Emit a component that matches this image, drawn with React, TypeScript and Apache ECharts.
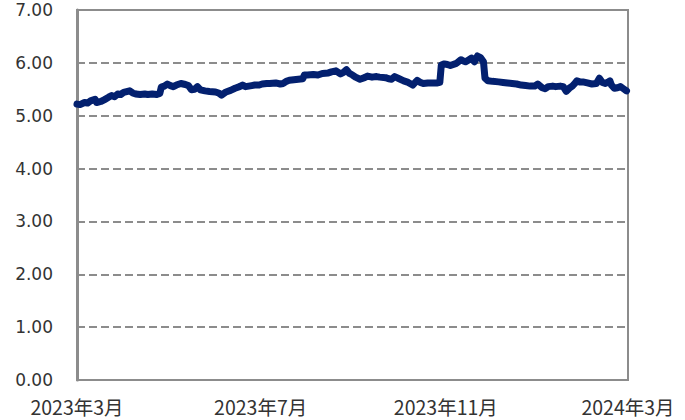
import React, { useEffect, useRef } from "react";
import * as echarts from "echarts";

const dates: string[] = [
  "2023-03-01","2023-03-03","2023-03-06","2023-03-08","2023-03-10","2023-03-13","2023-03-14","2023-03-17","2023-03-19","2023-03-22",
  "2023-03-24","2023-03-26","2023-03-28","2023-03-30","2023-04-01","2023-04-05","2023-04-07","2023-04-09","2023-04-12","2023-04-15",
  "2023-04-17","2023-04-20","2023-04-23","2023-04-25","2023-04-26","2023-04-28","2023-04-30","2023-05-02","2023-05-04","2023-05-06",
  "2023-05-09","2023-05-12","2023-05-14","2023-05-16","2023-05-18","2023-05-20","2023-05-22","2023-05-25","2023-05-28","2023-06-01",
  "2023-06-03","2023-06-05","2023-06-08","2023-06-11","2023-06-14","2023-06-17","2023-06-19","2023-06-21","2023-06-23","2023-06-25",
  "2023-06-27","2023-06-30","2023-07-02","2023-07-05","2023-07-07","2023-07-11","2023-07-14","2023-07-16","2023-07-18","2023-07-20",
  "2023-07-23","2023-07-26","2023-07-29","2023-07-30","2023-08-01","2023-08-05","2023-08-08","2023-08-11","2023-08-15","2023-08-17",
  "2023-08-20","2023-08-22","2023-08-23","2023-08-25","2023-08-27","2023-08-29","2023-08-31","2023-09-02","2023-09-05","2023-09-08",
  "2023-09-10","2023-09-13","2023-09-16","2023-09-18","2023-09-22","2023-09-24","2023-09-26","2023-09-28","2023-10-01","2023-10-04",
  "2023-10-07","2023-10-10","2023-10-12","2023-10-13","2023-10-15","2023-10-17","2023-10-20","2023-10-23","2023-10-26","2023-10-28",
  "2023-10-29","2023-10-31","2023-11-02","2023-11-04","2023-11-08","2023-11-11","2023-11-13","2023-11-14","2023-11-16","2023-11-18",
  "2023-11-20","2023-11-22","2023-11-24","2023-11-26","2023-11-27","2023-11-29","2023-12-02","2023-12-06","2023-12-09","2023-12-12",
  "2023-12-15","2023-12-18","2023-12-21","2023-12-24","2023-12-27","2023-12-30","2024-01-01","2024-01-04","2024-01-06","2024-01-08",
  "2024-01-11","2024-01-13","2024-01-16","2024-01-18","2024-01-20","2024-01-22","2024-01-24","2024-01-26","2024-01-27","2024-01-29",
  "2024-01-31","2024-02-03","2024-02-06","2024-02-09","2024-02-11","2024-02-13","2024-02-15","2024-02-17","2024-02-18","2024-02-19",
  "2024-02-21","2024-02-23","2024-02-25","2024-02-27","2024-02-29",
];

const values: number[] = [
  5.22,5.21,5.25,5.24,5.28,5.31,5.25,5.27,5.30,5.35,
  5.38,5.36,5.41,5.40,5.44,5.47,5.43,5.41,5.40,5.41,
  5.40,5.41,5.40,5.42,5.54,5.56,5.60,5.57,5.55,5.58,
  5.61,5.59,5.57,5.49,5.50,5.55,5.49,5.47,5.46,5.45,
  5.43,5.39,5.45,5.48,5.52,5.55,5.58,5.55,5.56,5.57,
  5.58,5.58,5.60,5.61,5.61,5.62,5.60,5.61,5.65,5.67,
  5.68,5.69,5.70,5.77,5.77,5.78,5.77,5.80,5.81,5.83,
  5.85,5.81,5.79,5.82,5.87,5.80,5.77,5.73,5.69,5.72,
  5.75,5.73,5.74,5.73,5.72,5.70,5.69,5.74,5.70,5.66,
  5.63,5.58,5.64,5.67,5.63,5.61,5.62,5.62,5.62,5.63,
  5.96,5.98,5.97,5.95,5.99,6.06,6.03,6.02,6.05,6.09,
  6.02,6.13,6.10,6.02,5.71,5.66,5.65,5.64,5.63,5.62,
  5.61,5.60,5.58,5.57,5.56,5.56,5.60,5.53,5.51,5.55,
  5.56,5.55,5.56,5.55,5.46,5.52,5.56,5.62,5.66,5.64,
  5.64,5.62,5.60,5.61,5.71,5.63,5.61,5.64,5.66,5.58,
  5.52,5.53,5.55,5.51,5.47,
];

const xLabelDates: string[] = ["2023-03-01", "2023-07-01", "2023-11-01", "2024-03-01"];
const yMin = 0;
const yMax = 7;
const yStep = 1;

const toTs = (s: string) => {
  const [y, m, d] = s.split("-").map(Number);
  return new Date(y, m - 1, d).getTime();
};

export default function App() {
  const ref = useRef<HTMLDivElement>(null);
  useEffect(() => {
    if (!ref.current) return;
    const chart = echarts.init(ref.current, undefined, { renderer: "svg" });
    const labelTs = xLabelDates.map(toTs);
    chart.setOption({
      animation: false,
      backgroundColor: "#ffffff",
      grid: {
        left: 77,
        right: 57,
        top: 10,
        bottom: 40,
        show: true,
        borderColor: "#8c8c8c",
        borderWidth: 2,
        backgroundColor: "transparent",
      },
      xAxis: {
        type: "value",
        min: labelTs[0],
        max: labelTs[labelTs.length - 1],
        axisLine: { show: true, lineStyle: { color: "#8c8c8c", width: 2 } },
        axisTick: { show: false },
        splitLine: { show: false },
        axisLabel: {
          customValues: labelTs,
          showMinLabel: true,
          showMaxLabel: true,
          margin: 17,
          color: "#333333",
          fontSize: 19.5,
          fontFamily: "Noto Sans CJK JP",
          formatter: (v: number) => {
            const d = new Date(v);
            return `${d.getFullYear()}年${d.getMonth() + 1}月`;
          },
        },
      },
      yAxis: {
        type: "value",
        min: yMin,
        max: yMax,
        interval: yStep,
        axisLine: { show: true, lineStyle: { color: "#8c8c8c", width: 3 } },
        axisTick: { show: false },
        splitLine: {
          show: true,
          lineStyle: { color: "#8c8c8c", width: 2, type: [8, 4] },
        },
        axisLabel: {
          margin: 24,
          color: "#333333",
          fontSize: 17,
          fontFamily: "DejaVu Sans",
          formatter: (v: number) => v.toFixed(2),
        },
      },
      series: [
        {
          type: "line",
          data: dates.map((d, i) => [toTs(d), values[i]]),
          showSymbol: false,
          symbol: "none",
          lineStyle: { color: "#03206f", width: 7, join: "round", cap: "round" },
          z: 3,
        },
      ],
    });
    return () => chart.dispose();
  }, []);
  return (
    <div
      ref={ref}
      style={{ position: "absolute", left: 0, top: 0, width: 685, height: 420 }}
    />
  );
}
